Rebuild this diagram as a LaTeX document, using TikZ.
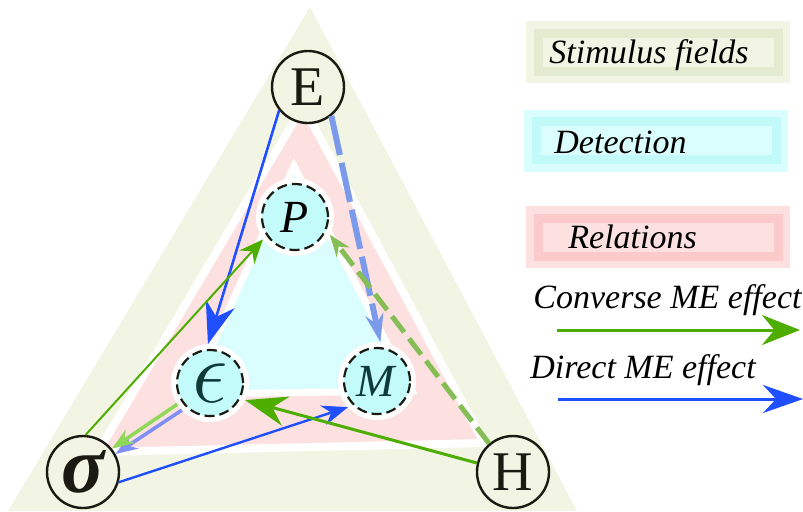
\documentclass[tikz,border=0pt]{standalone}
\usepackage{amsmath,amssymb,bm}
\usepackage{graphicx}
\usepackage{fontspec}
\setmainfont{Liberation Serif}
\usepackage{xcolor}
\usepackage{tikz}
\usetikzlibrary{arrows.meta,calc}

\definecolor{stimgreen}{HTML}{F2F5E3}
\definecolor{stimband}{HTML}{E5EBD1}
\definecolor{detcyan}{HTML}{DAFDFD}
\definecolor{detband}{HTML}{C2F9F9}
\definecolor{detcircle}{HTML}{C3FBFB}
\definecolor{relpink}{HTML}{FDE1E1}
\definecolor{relband}{HTML}{FCCACA}
\definecolor{ink}{HTML}{1A1A12}
\definecolor{tealink}{HTML}{0E3A3A}
\definecolor{directblue}{HTML}{1F4FFF}
\definecolor{dashblue}{HTML}{7B9AEB}
\definecolor{softblue}{HTML}{7F8FF5}
\definecolor{conversegreen}{HTML}{4DAE00}
\definecolor{dashgreen}{HTML}{86BE56}
\definecolor{softgreen}{HTML}{8FD85A}

\begin{document}
\begin{tikzpicture}[
        x=0.5pt, y=-0.5pt,
        >=Stealth,
        fieldnode/.style={
            circle,
            draw=ink,
            line width=1.2pt,
            fill=stimgreen,
            minimum size=36pt,
            inner sep=0pt,
            text=ink,
            font=\fontsize{28}{28}\selectfont
        },
        detnode/.style={
            circle,
            draw=ink,
            line width=1.1pt,
            dash pattern=on 5pt off 2.5pt,
            fill=detcircle,
            minimum size=33pt,
            inner sep=0pt,
            outer sep=3pt,
            preaction={draw=white, solid, line width=6pt},
            font=\fontsize{23}{23}\selectfont
        },
        legbox/.style 2 args={
            fill=#1,
            draw=#2,
            line width=4.5pt,
            preaction={draw=#1, line width=12pt},
            minimum width=120pt,
            minimum height=19pt,
            inner sep=0pt
        },
        legtext/.style={
            anchor=base west,
            inner sep=0pt,
            font=\fontsize{17}{17}\selectfont\itshape
        },
        directarrow/.style={->, line width=1.3pt, draw=directblue, fill=directblue},
        directdash/.style={->, line width=3pt, draw=dashblue, dash pattern=on 20pt off 4pt},
        softdirect/.style={->, line width=1.8pt, draw=softblue},
        conversearrow/.style={->, line width=1.5pt, draw=conversegreen},
        conversedash/.style={->, line width=2.5pt, draw=dashgreen, dash pattern=on 10pt off 4pt},
        softconverse/.style={->, line width=1.8pt, draw=softgreen}
    ]
        \useasboundingbox (0,0) rectangle (803,511);

        % Regions
        \fill[stimgreen] (310,7) -- (577,511) -- (8,511) -- cycle;
        \filldraw[fill=relpink, draw=white, line width=4pt] (303,106) -- (484,443) -- (98,452) -- cycle;
        \filldraw[fill=detcyan, draw=white, line width=3.5pt] (294,166) -- (412,391) -- (190,394) -- cycle;

        % Fields
        \node[fieldnode] (E) at (308,87) {E};
        \node[fieldnode, font=\fontsize{40}{40}\selectfont\bfseries\itshape] (sigma) at (83,472) {σ};
        \node[fieldnode] (H) at (513,472) {H};

        % Detection
        \node[detnode] (P) at (295,217) {\textit{P}};
        \node[detnode, text=tealink] (eps) at (210,383) {\scalebox{1.8}{$\epsilon$}};
        \node[detnode, text=tealink] (M) at (377,381) {\textit{M}};

        % Direct ME effect
        \draw[directarrow, -{Stealth[length=21pt, width=15pt]}] (E.219) -- (eps.93);
        \draw[directdash, -{Stealth[length=14pt, width=9pt]}] (E.309) -- (M.85);
        \draw[directarrow, line width=1.2pt, -{Stealth[length=13pt, width=10pt]}] (sigma.344) -- (M.222);
        \draw[softdirect, -{Stealth[length=11pt, width=8pt]}] (eps.224) -- (sigma.29);

        % Converse ME effect
        \draw[conversearrow, -{Stealth[length=21pt, width=15pt]}] (H.166) -- (eps.334);
        \draw[conversearrow, line width=1pt, -{Stealth[length=12pt, width=10pt]}] (sigma.86) -- (P.215);
        \draw[conversedash, -{Stealth[length=11pt, width=8pt]}] (H.130) -- (P.333);
        \draw[softconverse, -{Stealth[length=11pt, width=8pt]}] (eps.213) -- (sigma.39);

        % Legend
        \node[legbox={stimgreen}{stimband}] (stimbox) at (658,52) {};
        \node[legtext] (stimtext) at (549,63) {Stimulus fields};
        \node[legbox={detcyan}{detband}] (detbox) at (656,140.5) {};
        \node[legtext] (dettext) at (554,153) {Detection};
        \node[legbox={relpink}{relband}] (relbox) at (658,237) {};
        \node[legtext] (reltext) at (568,248) {Relations};

        \node[legtext] (convtext) at (533,308) {Converse ME effect};
        \coordinate (convA) at (557,330);
        \coordinate (convB) at (800,330);
        \draw[conversearrow, -{Stealth[length=19pt, width=15pt]}] (convA) -- (convB);

        \node[legtext] (dirtext) at (530,378) {Direct ME effect};
        \coordinate (dirA) at (558,399);
        \coordinate (dirB) at (803,399);
        \draw[directarrow, line width=1.5pt, -{Stealth[length=20pt, width=14pt]}] (dirA) -- (dirB);

    \end{tikzpicture}
\end{document}
